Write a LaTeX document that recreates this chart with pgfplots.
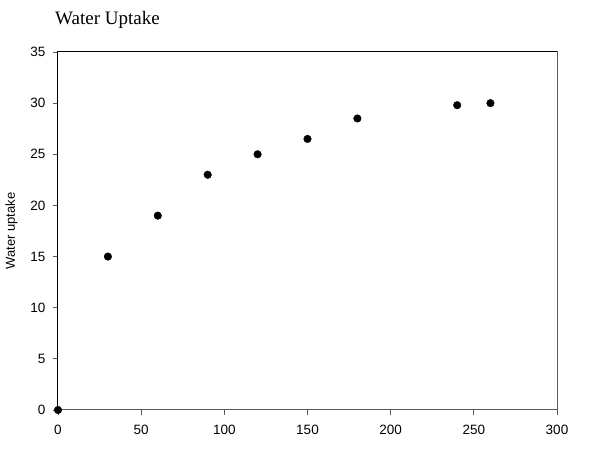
\documentclass[border=0pt]{standalone}
\usepackage{fontspec}
\setmainfont{Liberation Serif}
\setsansfont{Liberation Sans}
\usepackage{pgfplots}
\pgfplotsset{compat=1.18}
\usetikzlibrary{calc}

\begin{document}
\begin{tikzpicture}[x=1pt,y=1pt]
\begin{axis}[
  name=ax,
  scale only axis,
  width=499pt, height=358pt,
  xmin=0, xmax=300, ymin=0, ymax=35,
  xtick={0,50,...,300}, ytick={0,5,...,35},
  tick align=outside,
  major tick length=5pt,
  xtick pos=bottom, ytick pos=left,
  tick style={gray!70!black, line width=0.8pt},
  axis line style={gray!70!black, line width=1pt},
  ticklabel style={font=\sffamily\fontsize{13.5}{15}\selectfont},
  xticklabel style={yshift=-7pt},
  yticklabel style={xshift=-4pt},
  /pgf/number format/assume math mode=true,
  ylabel={Water uptake},
  ylabel style={font=\sffamily\fontsize{13}{15}\selectfont, at={(rel axis cs:0,0.5)}, anchor=south, yshift=37pt},
  clip=false,
  after end axis/.code={
    \draw[black, line width=1pt] (rel axis cs:0,0) -- (rel axis cs:0,1) -- (rel axis cs:1,1);
  },
]
\addplot[only marks, mark=*, mark size=3.8pt, black] coordinates {
  (0,0) (30,15) (60,19) (90,23) (120,25) (150,26.5) (180,28.5) (240,29.8) (260,30)
};
\end{axis}
\node[anchor=base west, font=\rmfamily\fontsize{19}{22}\selectfont, inner sep=0pt] at ($(ax.north west)+(-3pt,27pt)$) {Water Uptake};
\pgfresetboundingbox
\path[use as bounding box] ($(ax.south west)+(-58pt,-60pt)$) rectangle ($(ax.north east)+(43pt,52pt)$);
\end{tikzpicture}
\end{document}
